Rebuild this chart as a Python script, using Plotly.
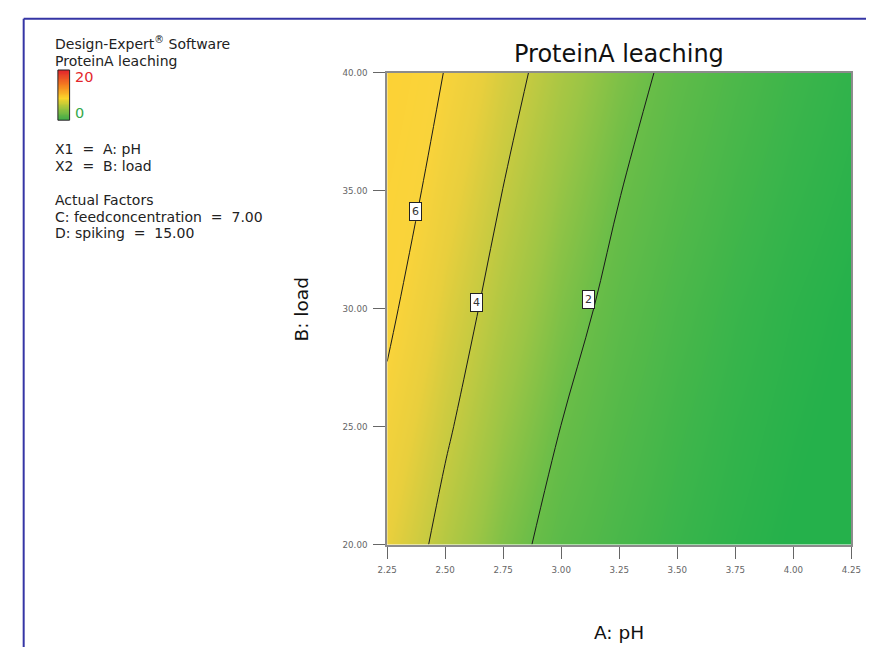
import plotly.graph_objects as go

W, H = 876, 652

# ---- data ----
ph = [2.25, 2.50, 2.75, 3.00, 3.25, 3.50, 3.75, 4.00, 4.25]
load = [20, 25, 30, 35, 40]
leach_load20 = [5.00, 3.60, 2.43, 1.56, 1.04, 0.59, 0.24, -0.04, -0.25]
leach_load25 = [5.63, 4.18, 2.94, 1.99, 1.33, 0.81, 0.41, 0.10, -0.14]
leach_load30 = [6.30, 4.73, 3.46, 2.43, 1.66, 1.07, 0.61, 0.25, -0.02]
leach_load35 = [7.00, 5.31, 3.98, 2.88, 2.03, 1.39, 0.88, 0.48, 0.17]
leach_load40 = [7.75, 5.94, 4.50, 3.35, 2.43, 1.71, 1.15, 0.70, 0.35]
contour_levels = [2, 4, 6]
label_text = ["6", "4", "2"]
label_ph = [2.372, 2.637, 3.117]
label_load = [34.13, 30.25, 30.40]
x_ticks = [2.25, 2.50, 2.75, 3.00, 3.25, 3.50, 3.75, 4.00, 4.25]
y_ticks = [20, 25, 30, 35, 40]
legend_values = list(range(0, 21))
legend_labels = ["20", "0"]

z = [leach_load20, leach_load25, leach_load30, leach_load35, leach_load40]

FONT = "DejaVu Sans"

def px(x):
    return x / W

def py(y):
    return 1 - y / H

plot_cs = [
    [0.0, "#25b14b"],
    [0.0625, "#36b44b"],
    [0.125, "#48b74a"],
    [0.25, "#69bd48"],
    [0.375, "#9cc545"],
    [0.5, "#c5ca41"],
    [0.625, "#e9cf3d"],
    [0.75, "#f9d33b"],
    [1.0, "#fdd234"],
]

legend_cs = [
    [0.0, "#35a84a"],
    [0.25, "#9cc43e"],
    [0.45, "#fbd52b"],
    [0.7, "#f5821f"],
    [1.0, "#e3262b"],
]

fig = go.Figure()

fig.add_trace(go.Heatmap(
    x=ph, y=load, z=z, zsmooth="best", colorscale=plot_cs,
    zmin=0, zmax=8, showscale=False, hoverinfo="skip",
    xaxis="x", yaxis="y",
))
fig.add_trace(go.Contour(
    x=ph, y=load, z=z, autocontour=False,
    contours=dict(start=contour_levels[0], end=contour_levels[-1],
                  size=contour_levels[1] - contour_levels[0],
                  coloring="none", showlabels=False),
    line=dict(color="#1a1a1a", width=1, smoothing=1.0),
    showscale=False, hoverinfo="skip",
    xaxis="x", yaxis="y",
))

# small legend colour bar
fig.add_trace(go.Heatmap(
    x=[0], y=legend_values, z=[[v] for v in legend_values],
    zsmooth="best", colorscale=legend_cs, zmin=0, zmax=20,
    showscale=False, hoverinfo="skip", xaxis="x2", yaxis="y2",
))

axis_common = dict(
    showgrid=False, zeroline=False, ticks="outside", ticklen=12,
    tickcolor="#666", tickwidth=1, showline=True, linecolor="#8c8c8c",
    linewidth=2, mirror=True,
    tickfont=dict(family=FONT, size=8.7, color="#666"),
)

fig.update_layout(
    width=W, height=H,
    margin=dict(l=0, r=0, t=0, b=0),
    paper_bgcolor="white", plot_bgcolor="white",
    showlegend=False,
    xaxis=dict(domain=[px(386), px(861)], range=[2.25, 4.25],
               tickvals=x_ticks, tickformat=".2f", anchor="y",
               ticklabelstandoff=4, **axis_common),
    yaxis=dict(domain=[py(548), py(69)], range=[20, 40],
               tickvals=y_ticks, tickformat=".2f", anchor="x",
               ticklabelstandoff=4, **axis_common),
    xaxis2=dict(domain=[px(49), px(61)], range=[-0.5, 0.5], visible=False,
                anchor="y2"),
    yaxis2=dict(domain=[py(117), py(66)], range=[0, 20], visible=False,
                anchor="x2"),
)

shapes = [
    dict(type="rect", xref="paper", yref="paper",
         x0=px(49), x1=px(61), y0=py(117), y1=py(66),
         line=dict(color="#222", width=1)),
    dict(type="line", xref="paper", yref="paper",
         x0=px(14), x1=1, y0=py(14), y1=py(14),
         line=dict(color="#3535a5", width=2)),
    dict(type="line", xref="paper", yref="paper",
         x0=px(14), x1=px(14), y0=py(14), y1=0,
         line=dict(color="#3535a5", width=2)),
]
fig.update_layout(shapes=shapes)

ann = []
# title
ann.append(dict(text="ProteinA leaching", xref="paper", yref="paper",
                x=px(623.5), y=py(50), xanchor="center", yanchor="middle",
                showarrow=False, font=dict(family=FONT, size=24, color="#111")))
# axis titles
ann.append(dict(text="A: pH", xref="paper", yref="paper",
                x=px(623.5), y=py(637), xanchor="center", yanchor="middle",
                showarrow=False, font=dict(family=FONT, size=18.5, color="#111")))
ann.append(dict(text="B: load", xref="paper", yref="paper",
                x=px(298), y=py(309), xanchor="center", yanchor="middle",
                textangle=-90, showarrow=False,
                font=dict(family=FONT, size=18.5, color="#111")))

NB = "\u00a0"
left_lines = [
    ("Design-Expert<sup>®</sup> Software", 39),
    ("ProteinA leaching", 56.5),
    ("X1" + NB + " =" + NB + " A: pH", 146.5),
    ("X2" + NB + " =" + NB + " B: load", 163),
    ("Actual Factors", 198),
    ("C: feedconcentration" + NB + " =" + NB + " 7.00", 215),
    ("D: spiking" + NB + " =" + NB + " 15.00", 232),
]
for t, yy in left_lines:
    ann.append(dict(text=t, xref="paper", yref="paper", x=px(44), y=py(yy),
                    xanchor="left", yanchor="middle", showarrow=False,
                    font=dict(family=FONT, size=14, color="#222")))
ann.append(dict(text=legend_labels[0], xref="paper", yref="paper", x=px(64), y=py(73.5),
                xanchor="left", yanchor="middle", showarrow=False,
                font=dict(family=FONT, size=14.5, color="#e3262b")))
ann.append(dict(text=legend_labels[1], xref="paper", yref="paper", x=px(64), y=py(109.5),
                xanchor="left", yanchor="middle", showarrow=False,
                font=dict(family=FONT, size=14.5, color="#35a84a")))

# contour labels
for t, xv, yv in zip(label_text, label_ph, label_load):
    ann.append(dict(text=t, xref="x", yref="y", x=xv, y=yv,
                    xanchor="center", yanchor="middle", showarrow=False,
                    bgcolor="white", bordercolor="#222", borderwidth=1,
                    borderpad=2, font=dict(family=FONT, size=11, color="#333")))

fig.update_layout(annotations=ann)

# remove the page's default body margin so the figure sits at the window origin
fig.write_html(
    "out.html",
    config={"displayModeBar": False},
    post_script="document.body.style.margin='0';document.body.style.overflow='hidden';",
)
